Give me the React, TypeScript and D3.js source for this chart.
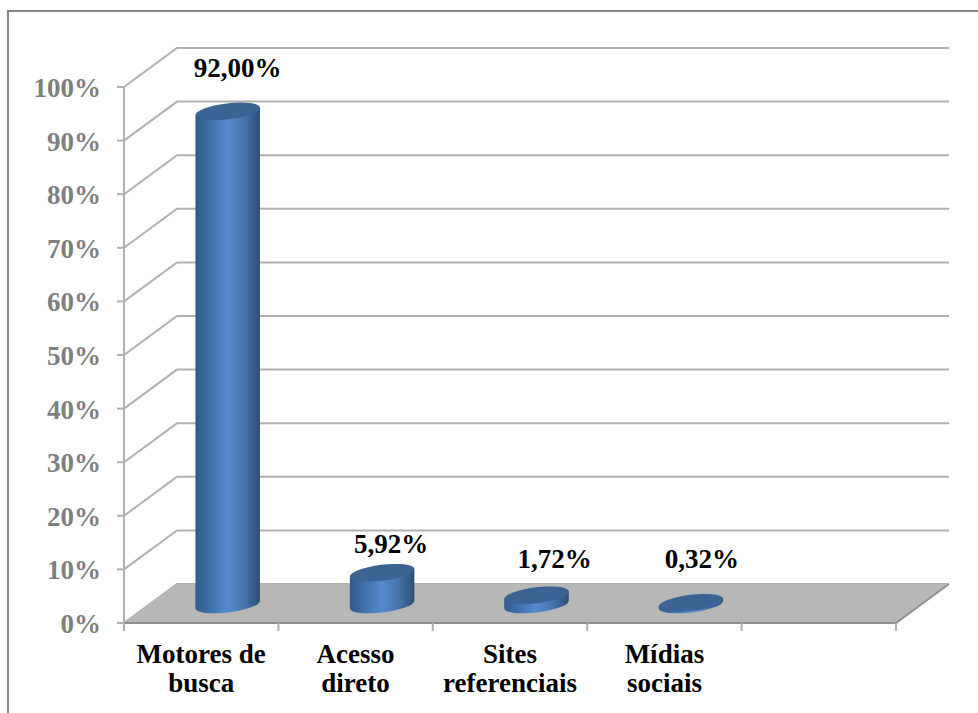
import * as d3 from "d3";

// Values
const CATEGORIES = [["Motores de", "busca"], ["Acesso", "direto"], ["Sites", "referenciais"], ["Mídias", "sociais"], []];
const VALUES = [92, 5.92, 1.72, 0.32];
const VALUE_LABELS = ["92,00%", "5,92%", "1,72%", "0,32%"];
const Y_TICKS = [0, 10, 20, 30, 40, 50, 60, 70, 80, 90, 100];

// The labels were dragged by hand in the original, so each has its own nudge
const LABEL_NUDGE = [[10, -34], [9, -20], [18, -27], [11, -35]];

const W = 978;
const H = 713;
const FRONT = { left: 124, right: 896, top: 87, bottom: 623 };
const DEPTH = { x: 53, y: -39 };
const RX = 32.5;
const RY = 8;
const TILT = -7;
const SERIF = "'Liberation Serif', 'Times New Roman', serif";
const GRID = "#b0b0b0";

export default function App() {
  const yScale = d3.scaleLinear().domain([0, 100]).range([FRONT.bottom, FRONT.top]);
  const xScale = d3.scaleBand<number>()
    .domain(d3.range(CATEGORIES.length))
    .range([FRONT.left, FRONT.right]);
  const band = xScale.bandwidth();
  const floorPath = d3.line()([
    [FRONT.left, FRONT.bottom],
    [FRONT.left + DEPTH.x, FRONT.bottom + DEPTH.y],
    [FRONT.right + DEPTH.x, FRONT.bottom + DEPTH.y],
    [FRONT.right, FRONT.bottom],
  ]) + "Z";

  // cylinders stand halfway into the floor
  const baseY = yScale(0) + DEPTH.y / 2 + 1;
  const unit = yScale(0) - yScale(1);
  const rad = (-TILT * Math.PI) / 180;
  const ex = RX * Math.cos(rad);
  const ey = RX * Math.sin(rad);

  return (
    <svg width={W} height={H} style={{ position: "absolute", left: 0, top: 0, display: "block" }}>
      <defs>
        <linearGradient id="cyl" x1="0" x2="1" y1="0" y2="0">
          <stop offset="0" stopColor="#305a8c" />
          <stop offset="0.25" stopColor="#4273ad" />
          <stop offset="0.5" stopColor="#558bce" />
          <stop offset="0.75" stopColor="#4675ab" />
          <stop offset="1" stopColor="#2c4e78" />
        </linearGradient>
      </defs>

      {/* frame, runs off the page on the right and at the bottom */}
      <path d={`M8,${H}V11H${W}`} fill="none" stroke="#868686" strokeWidth={2} />

      {/* walls */}
      {Y_TICKS.map((t) => {
        const y = yScale(t);
        return (
          <g key={t}>
            <path
              d={`M${FRONT.left},${y}L${FRONT.left + DEPTH.x},${y + DEPTH.y}H${FRONT.right + DEPTH.x}`}
              fill="none" stroke={GRID} strokeWidth={2}
            />
            <line x1={FRONT.left - 7} x2={FRONT.left} y1={y} y2={y} stroke={GRID} strokeWidth={2} />
            <text
              x={FRONT.left - 23} y={y + 10}
              textAnchor="end" fontFamily={SERIF} fontWeight="bold" fontSize={27}
              fill="#7f7f7f">
              {t}%
            </text>
          </g>
        );
      })}

      {/* floor */}
      <path d={floorPath} fill="#b7b7b7" />
      <path
        d={`M${FRONT.left},${FRONT.bottom}H${FRONT.right}L${FRONT.right + DEPTH.x},${FRONT.bottom + DEPTH.y}`}
        fill="none" stroke="#8f8f8f" strokeWidth={2}
      />
      <line x1={FRONT.left} x2={FRONT.left} y1={FRONT.top} y2={FRONT.bottom + 8} stroke={GRID} strokeWidth={2} />
      {d3.range(1, CATEGORIES.length + 1).map((i) => {
        const x = FRONT.left + i * band;
        return <line key={i} x1={x} x2={x} y1={FRONT.bottom} y2={FRONT.bottom + 8} stroke={GRID} strokeWidth={2} />;
      })}

      {/* cylinders */}
      {VALUES.map((v, i) => {
        const cx = (xScale(i) ?? 0) + band / 2 + DEPTH.x / 2;
        const topY = baseY - v * unit;
        const body =
          `M${cx - ex},${topY + ey}` +
          `V${baseY + ey}` +
          `A${RX},${RY} ${TILT} 0 0 ${cx + ex},${baseY - ey}` +
          `V${topY - ey}Z`;
        return (
          <g key={i}>
            <path d={body} fill="url(#cyl)" />
            <ellipse
              cx={cx} cy={topY} rx={RX} ry={RY}
              transform={`rotate(${TILT},${cx},${topY})`}
              fill="#3b6494"
            />
            <text
              x={cx + LABEL_NUDGE[i][0]} y={topY + LABEL_NUDGE[i][1]}
              textAnchor="middle" fontFamily={SERIF} fontWeight="bold" fontSize={27}
              fill="#000">
              {VALUE_LABELS[i]}
            </text>
          </g>
        );
      })}

      {/* category labels */}
      {CATEGORIES.map((lines, i) =>
        lines.map((s, j) => (
          <text key={s}
            x={(xScale(i) ?? 0) + band / 2} y={663 + j * 29}
            textAnchor="middle" fontFamily={SERIF} fontWeight="bold" fontSize={27}
            fill="#000">
            {s}
          </text>
        ))
      )}
    </svg>
  );
}
